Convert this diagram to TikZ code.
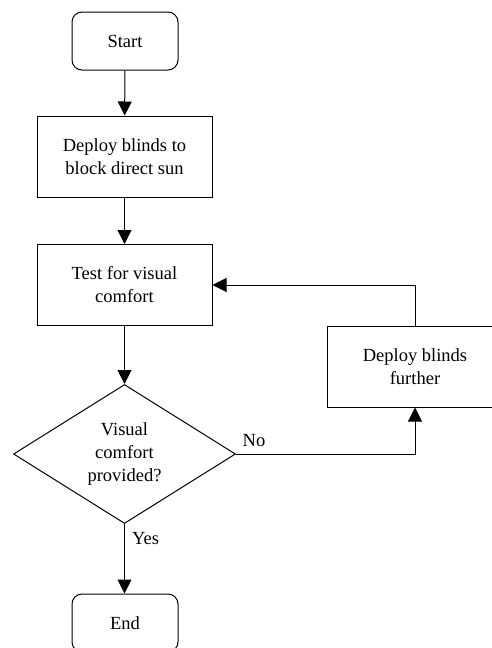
\documentclass[tikz,border=0pt]{standalone}
\usepackage{fontspec}
\setmainfont{Liberation Serif}
\usetikzlibrary{shapes.geometric,arrows.meta}
\begin{document}
\begin{tikzpicture}[x=1pt,y=-1pt,
  every node/.style={font=\fontsize{18.5}{23}\selectfont},
  line/.style={line width=1pt},
  flow/.style={line, -{Triangle[length=14pt,width=14pt]}},
  term/.style={draw,line width=1pt,rounded corners=10pt,minimum width=106pt,minimum height=58pt,inner sep=0pt},
  proc/.style={draw,line width=1pt,minimum width=175pt,minimum height=81pt,align=center,inner sep=0pt},
  decide/.style={draw,line width=1pt,diamond,aspect=1.6,minimum width=222pt,minimum height=139pt,align=center,inner sep=0pt},
  tag/.style={inner sep=0pt}
]
\useasboundingbox (0,0) rectangle (492,648);
\clip (0,0) rectangle (492,648);

% main column
\node[term] (start) at (125,41) {Start};
\node[proc] (deploy) at (124.5,156.5) {Deploy blinds to\\block direct sun};
\node[proc] (test) at (124.5,285) {Test for visual\\comfort};
\node[decide] (check) at (124.5,454) {Visual\\comfort\\provided?};
\node[term] (finish) at (125,623) {End};

% side branch
\node[proc,minimum width=176pt] (further) at (415,366.5) {Deploy blinds\\further};

% connectors
\draw[flow] (start) -- (deploy);
\draw[flow] (deploy) -- (test);
\draw[flow] (test) -- (check);
\draw[flow] (check.south) -- (check.south |- finish.north);
\draw[flow] (check.east) -| (further.south);
\draw[flow] (further.north) |- (test.east);

% branch labels
\node[tag,anchor=west] (yes) at (132,539) {Yes};
\node[tag] (no) at (254,441) {No};
\end{tikzpicture}
\end{document}
